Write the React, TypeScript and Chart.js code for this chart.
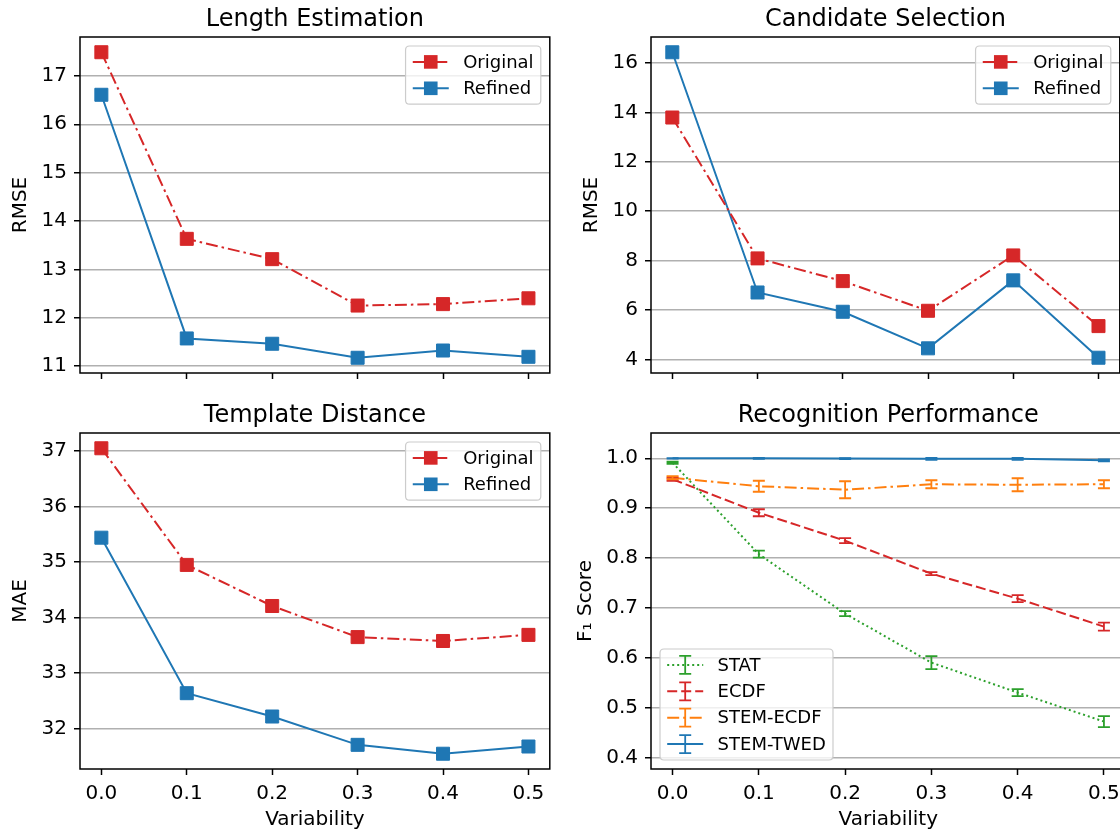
import React, { useEffect, useRef } from "react";
import { Chart, registerables } from "chart.js";

Chart.register(...registerables);

// ---------------- DATA ----------------
const VARIABILITY = [0, 0.1, 0.2, 0.3, 0.4, 0.5];
const X_TICKS = [0, 0.1, 0.2, 0.3, 0.4, 0.5];

const LENGTH_ORIGINAL = [17.49, 13.63, 13.21, 12.25, 12.28, 12.4];
const LENGTH_REFINED = [16.61, 11.57, 11.46, 11.17, 11.32, 11.19];
const LENGTH_Y_TICKS = [11, 12, 13, 14, 15, 16, 17];

const CANDIDATE_ORIGINAL = [13.79, 8.09, 7.17, 5.97, 8.21, 5.35];
const CANDIDATE_REFINED = [16.43, 6.71, 5.93, 4.45, 7.2, 4.07];
const CANDIDATE_Y_TICKS = [4, 6, 8, 10, 12, 14, 16];

const TEMPLATE_ORIGINAL = [37.05, 34.95, 34.21, 33.65, 33.58, 33.69];
const TEMPLATE_REFINED = [35.44, 32.64, 32.22, 31.71, 31.55, 31.68];
const TEMPLATE_Y_TICKS = [32, 33, 34, 35, 36, 37];

const STAT_F1 = [0.991, 0.808, 0.689, 0.591, 0.531, 0.473];
const STAT_ERR = [0.002, 0.007, 0.005, 0.013, 0.007, 0.011];
const ECDF_F1 = [0.958, 0.891, 0.835, 0.769, 0.719, 0.663];
const ECDF_ERR = [0.003, 0.007, 0.005, 0.003, 0.007, 0.008];
const STEM_ECDF_F1 = [0.961, 0.944, 0.937, 0.948, 0.947, 0.948];
const STEM_ECDF_ERR = [0.003, 0.011, 0.017, 0.008, 0.013, 0.008];
const STEM_TWED_F1 = [1.0, 1.0, 0.9995, 0.999, 0.999, 0.996];
const STEM_TWED_ERR = [0.0005, 0.001, 0.001, 0.002, 0.002, 0.002];
const F1_Y_TICKS = [0.4, 0.5, 0.6, 0.7, 0.8, 0.9, 1.0];

// ---------------- STYLE ----------------
const FONT = '"DejaVu Sans", sans-serif';
const RED = "#d62728";
const BLUE = "#1f77b4";
const GREEN = "#2ca02c";
const ORANGE = "#ff7f0e";
const DASHDOT = [12, 4, 2.5, 4];
const DASHED = [10, 4];
const DOTTED = [2, 3];
const GRID = "#b0b0b0";
const TICK_FS = 20;
const TITLE_FS = 24;
const LEGEND_FS = 18;

type LegendItem = { label: string; color: string; dash: number[]; marker?: boolean; errorbar?: boolean };

interface PanelSpec {
  title: string;
  yLabel: string;
  xLabel: string | null;
  yMin: number;
  yMax: number;
  yTicks: number[];
  yFmt: (v: number) => string;
  datasets: any[];
  legend: LegendItem[];
  legendLoc: "upper right" | "lower left";
  canvasW: number;
  canvasH: number;
  areaLeft: number;
  areaTop: number;
  areaRight: number;
  areaBottom: number;
  yTitlePad: number;
}

const pts = (ys: number[]) => VARIABILITY.map((x, i) => ({ x, y: ys[i] }));

function markerLine(label: string, values: number[], color: string, dash: number[]) {
  return {
    label,
    data: pts(values),
    borderColor: color,
    backgroundColor: color,
    borderWidth: 2,
    borderDash: dash,
    pointStyle: "rect",
    pointRadius: 9.2,
    pointBorderWidth: 1,
    pointBorderColor: color,
    pointBackgroundColor: color,
    tension: 0,
    fill: false,
  };
}

function errLine(label: string, values: number[], errs: number[], color: string, dash: number[]) {
  return {
    label,
    data: pts(values),
    errorBars: errs,
    borderColor: color,
    backgroundColor: color,
    borderWidth: 2,
    borderDash: dash,
    pointRadius: 0,
    tension: 0,
    fill: false,
  };
}

function roundRect(ctx: CanvasRenderingContext2D, x: number, y: number, w: number, h: number, r: number) {
  ctx.beginPath();
  ctx.moveTo(x + r, y);
  ctx.lineTo(x + w - r, y);
  ctx.quadraticCurveTo(x + w, y, x + w, y + r);
  ctx.lineTo(x + w, y + h - r);
  ctx.quadraticCurveTo(x + w, y + h, x + w - r, y + h);
  ctx.lineTo(x + r, y + h);
  ctx.quadraticCurveTo(x, y + h, x, y + h - r);
  ctx.lineTo(x, y + r);
  ctx.quadraticCurveTo(x, y, x + r, y);
  ctx.closePath();
}

function makeDecor(spec: PanelSpec) {
  return {
    id: "decor",
    afterDatasetsDraw(chart: any) {
      const ctx: CanvasRenderingContext2D = chart.ctx;
      const xs = chart.scales.x;
      const ys = chart.scales.y;
      ctx.save();
      chart.data.datasets.forEach((ds: any) => {
        if (!ds.errorBars) return;
        ctx.strokeStyle = ds.borderColor;
        ctx.lineWidth = 1.8;
        ctx.setLineDash([]);
        ds.data.forEach((p: any, j: number) => {
          const e = ds.errorBars[j];
          const x = xs.getPixelForValue(p.x);
          const y1 = ys.getPixelForValue(p.y - e);
          const y2 = ys.getPixelForValue(p.y + e);
          ctx.beginPath();
          ctx.moveTo(x, y1);
          ctx.lineTo(x, y2);
          ctx.moveTo(x - 6, y1);
          ctx.lineTo(x + 6, y1);
          ctx.moveTo(x - 6, y2);
          ctx.lineTo(x + 6, y2);
          ctx.stroke();
        });
      });
      ctx.restore();
    },
    afterDraw(chart: any) {
      const ctx: CanvasRenderingContext2D = chart.ctx;
      const ca = chart.chartArea;
      ctx.save();
      // spines
      ctx.strokeStyle = "#000";
      ctx.lineWidth = 1.5;
      ctx.setLineDash([]);
      ctx.strokeRect(ca.left, ca.top, ca.right - ca.left, ca.bottom - ca.top);
      // title
      ctx.fillStyle = "#000";
      ctx.font = `${TITLE_FS}px ${FONT}`;
      ctx.textAlign = "center";
      ctx.textBaseline = "alphabetic";
      ctx.fillText(spec.title, (ca.left + ca.right) / 2, ca.top - 11);
      // legend
      ctx.font = `${LEGEND_FS}px ${FONT}`;
      const pad = 7.2;
      const handleLen = 36;
      const textPad = 14.4;
      const rowH = 17.4;
      const spacing = 9;
      const axPad = 9;
      const textW = Math.max(...spec.legend.map((it) => ctx.measureText(it.label).width));
      const w = pad * 2 + handleLen + textPad + textW;
      const n = spec.legend.length;
      const h = pad * 2 + n * rowH + (n - 1) * spacing;
      let x0: number, y0: number;
      if (spec.legendLoc === "upper right") {
        x0 = ca.right - axPad - w;
        y0 = ca.top + axPad;
      } else {
        x0 = ca.left + axPad;
        y0 = ca.bottom - axPad - h;
      }
      roundRect(ctx, x0, y0, w, h, 4);
      ctx.fillStyle = "rgba(255,255,255,0.8)";
      ctx.fill();
      ctx.strokeStyle = "#cccccc";
      ctx.lineWidth = 1.2;
      ctx.stroke();
      spec.legend.forEach((it, i) => {
        const cy = y0 + pad + i * (rowH + spacing) + rowH / 2;
        const hx0 = x0 + pad;
        const hx1 = hx0 + handleLen;
        const hcx = (hx0 + hx1) / 2;
        ctx.strokeStyle = it.color;
        ctx.lineWidth = 2;
        ctx.setLineDash(it.dash);
        ctx.beginPath();
        ctx.moveTo(hx0, cy);
        ctx.lineTo(hx1, cy);
        ctx.stroke();
        ctx.setLineDash([]);
        if (it.marker) {
          ctx.fillStyle = it.color;
          ctx.fillRect(hcx - 6.8, cy - 6.8, 13.6, 13.6);
        }
        if (it.errorbar) {
          ctx.lineWidth = 1.8;
          ctx.beginPath();
          ctx.moveTo(hcx, cy - 9);
          ctx.lineTo(hcx, cy + 9);
          ctx.moveTo(hcx - 6, cy - 9);
          ctx.lineTo(hcx + 6, cy - 9);
          ctx.moveTo(hcx - 6, cy + 9);
          ctx.lineTo(hcx + 6, cy + 9);
          ctx.stroke();
        }
        ctx.fillStyle = "#000";
        ctx.textAlign = "left";
        ctx.textBaseline = "middle";
        ctx.fillText(it.label, hx1 + textPad, cy + 1);
      });
      ctx.restore();
    },
  };
}

function buildConfig(spec: PanelSpec): any {
  const xAxisH = spec.canvasH - spec.areaBottom;
  return {
    type: "line",
    data: { datasets: spec.datasets },
    plugins: [makeDecor(spec)],
    options: {
      responsive: false,
      maintainAspectRatio: false,
      animation: false,
      events: [],
      devicePixelRatio: 1,
      layout: {
        padding: { left: 0, top: spec.areaTop, right: spec.canvasW - spec.areaRight, bottom: 0 },
      },
      plugins: {
        legend: { display: false },
        title: { display: false },
        tooltip: { enabled: false },
      },
      scales: {
        x: {
          type: "linear",
          min: -0.025,
          max: 0.525,
          afterBuildTicks: (scale: any) => {
            scale.ticks = X_TICKS.map((v) => ({ value: v }));
          },
          afterFit: (scale: any) => {
            scale.height = xAxisH;
          },
          border: { display: false },
          grid: {
            drawOnChartArea: false,
            drawTicks: true,
            tickLength: 6,
            tickColor: "#000",
            tickWidth: 1.5,
          },
          ticks: {
            display: !!spec.xLabel,
            autoSkip: false,
            maxRotation: 0,
            padding: 7,
            color: "#000",
            font: { family: FONT, size: TICK_FS },
            callback: (v: number) => Number(v).toFixed(1),
          },
          title: {
            display: !!spec.xLabel,
            text: spec.xLabel || "",
            color: "#000",
            font: { family: FONT, size: TICK_FS },
            padding: { top: 0, bottom: 0 },
          },
        },
        y: {
          type: "linear",
          min: spec.yMin,
          max: spec.yMax,
          afterBuildTicks: (scale: any) => {
            scale.ticks = spec.yTicks.map((v) => ({ value: v }));
          },
          afterFit: (scale: any) => {
            scale.width = spec.areaLeft;
          },
          border: { display: false },
          grid: {
            drawOnChartArea: true,
            color: GRID,
            lineWidth: 1.5,
            drawTicks: true,
            tickLength: 6,
            tickColor: "#000",
            tickWidth: 1.5,
          },
          ticks: {
            autoSkip: false,
            padding: 7,
            color: "#000",
            font: { family: FONT, size: TICK_FS },
            callback: (v: number) => spec.yFmt(Number(v)),
          },
          title: {
            display: true,
            text: spec.yLabel,
            color: "#000",
            font: { family: FONT, size: TICK_FS },
            padding: { top: spec.yTitlePad, bottom: 0 },
          },
        },
      },
    },
  };
}

function Panel({ spec, left, top }: { spec: PanelSpec; left: number; top: number }) {
  const ref = useRef<HTMLCanvasElement>(null);
  useEffect(() => {
    const chart = new Chart(ref.current as HTMLCanvasElement, buildConfig(spec));
    return () => chart.destroy();
  }, []);
  return (
    <canvas
      ref={ref}
      width={spec.canvasW}
      height={spec.canvasH}
      style={{ position: "absolute", left, top, width: spec.canvasW, height: spec.canvasH }}
    />
  );
}

const origRefLegend: LegendItem[] = [
  { label: "Original", color: RED, dash: DASHDOT, marker: true },
  { label: "Refined", color: BLUE, dash: [], marker: true },
];

const intFmt = (v: number) => String(Math.round(v));

const TL: PanelSpec = {
  title: "Length Estimation",
  yLabel: "RMSE",
  xLabel: null,
  yMin: 10.855,
  yMax: 17.805,
  yTicks: LENGTH_Y_TICKS,
  yFmt: intFmt,
  datasets: [
    markerLine("Original", LENGTH_ORIGINAL, RED, DASHDOT),
    markerLine("Refined", LENGTH_REFINED, BLUE, []),
  ],
  legend: origRefLegend,
  legendLoc: "upper right",
  canvasW: 560,
  canvasH: 400,
  areaLeft: 80,
  areaTop: 37,
  areaRight: 553.5,
  areaBottom: 373,
  yTitlePad: 8.5,
};

const TR: PanelSpec = {
  title: "Candidate Selection",
  yLabel: "RMSE",
  xLabel: null,
  yMin: 3.452,
  yMax: 17.048,
  yTicks: CANDIDATE_Y_TICKS,
  yFmt: intFmt,
  datasets: [
    markerLine("Original", CANDIDATE_ORIGINAL, RED, DASHDOT),
    markerLine("Refined", CANDIDATE_REFINED, BLUE, []),
  ],
  legend: origRefLegend,
  legendLoc: "upper right",
  canvasW: 570,
  canvasH: 400,
  areaLeft: 91,
  areaTop: 37,
  areaRight: 565.5,
  areaBottom: 373,
  yTitlePad: 20,
};

const BL: PanelSpec = {
  title: "Template Distance",
  yLabel: "MAE",
  xLabel: "Variability",
  yMin: 31.275,
  yMax: 37.325,
  yTicks: TEMPLATE_Y_TICKS,
  yFmt: intFmt,
  datasets: [
    markerLine("Original", TEMPLATE_ORIGINAL, RED, DASHDOT),
    markerLine("Refined", TEMPLATE_REFINED, BLUE, []),
  ],
  legend: origRefLegend,
  legendLoc: "upper right",
  canvasW: 560,
  canvasH: 432,
  areaLeft: 80,
  areaTop: 33,
  areaRight: 553.5,
  areaBottom: 369,
  yTitlePad: 8.5,
};

const BR: PanelSpec = {
  title: "Recognition Performance",
  yLabel: "F\u2081 Score",
  xLabel: "Variability",
  yMin: 0.378,
  yMax: 1.0506,
  yTicks: F1_Y_TICKS,
  yFmt: (v: number) => v.toFixed(1),
  datasets: [
    errLine("STAT", STAT_F1, STAT_ERR, GREEN, DOTTED),
    errLine("ECDF", ECDF_F1, ECDF_ERR, RED, DASHED),
    errLine("STEM-ECDF", STEM_ECDF_F1, STEM_ECDF_ERR, ORANGE, DASHDOT),
    errLine("STEM-TWED", STEM_TWED_F1, STEM_TWED_ERR, BLUE, []),
  ],
  legend: [
    { label: "STAT", color: GREEN, dash: DOTTED, errorbar: true },
    { label: "ECDF", color: RED, dash: DASHED, errorbar: true },
    { label: "STEM-ECDF", color: ORANGE, dash: DASHDOT, errorbar: true },
    { label: "STEM-TWED", color: BLUE, dash: [], errorbar: true },
  ],
  legendLoc: "lower left",
  canvasW: 570,
  canvasH: 432,
  areaLeft: 91,
  areaTop: 33,
  areaRight: 565.5,
  areaBottom: 369,
  yTitlePad: 14,
};

export default function App() {
  return (
    <div
      style={{
        position: "absolute",
        left: 0,
        top: 0,
        width: 1120,
        height: 832,
        overflow: "hidden",
        background: "#fff",
      }}
    >
      <Panel spec={TL} left={0} top={0} />
      <Panel spec={TR} left={560} top={0} />
      <Panel spec={BL} left={0} top={400} />
      <Panel spec={BR} left={560} top={400} />
    </div>
  );
}
